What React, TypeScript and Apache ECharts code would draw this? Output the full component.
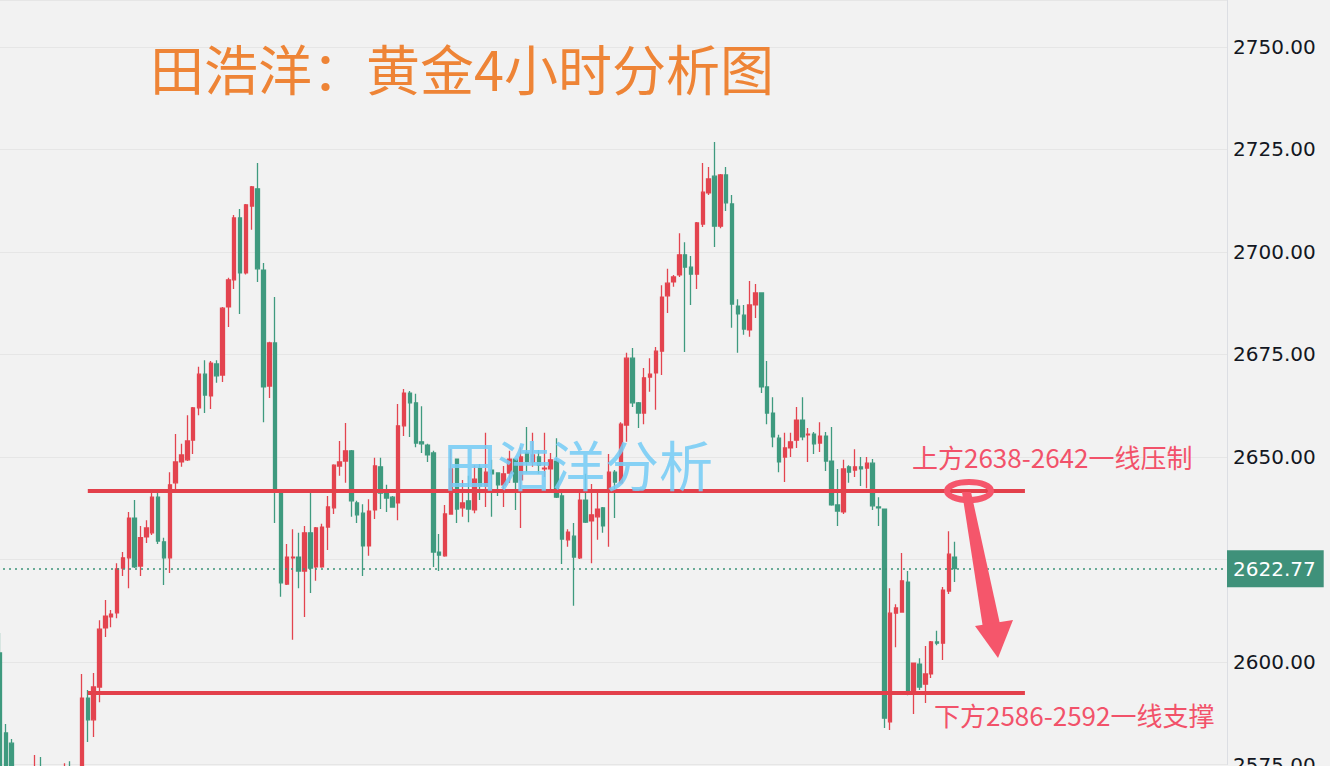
import React, { useEffect, useRef } from "react";
import * as echarts from "echarts";

// [open, close, low, high] — 4H gold candles
const candles: number[][] = [
  [2602.2, 2571.2, 2568.8, 2607.1], [2582.7, 2572.4, 2568.0, 2584.9], [2580.2, 2570.0, 2566.0, 2581.2],
  [2570.0, 2566.0, 2560.0, 2573.0], [2566.0, 2568.0, 2562.0, 2572.0], [2568.0, 2565.0, 2561.0, 2571.0],
  [2566.0, 2572.0, 2563.0, 2577.3], [2572.0, 2567.0, 2564.0, 2576.8], [2567.0, 2564.0, 2560.0, 2570.0],
  [2564.0, 2568.0, 2561.0, 2572.0], [2568.0, 2566.0, 2562.0, 2572.0], [2566.0, 2571.0, 2563.0, 2575.3],
  [2571.0, 2568.0, 2565.0, 2575.8], [2568.0, 2570.0, 2565.0, 2573.0], [2570.0, 2591.2, 2568.0, 2597.1],
  [2591.2, 2585.9, 2580.5, 2593.2], [2585.9, 2593.9, 2581.7, 2597.3], [2593.9, 2608.0, 2590.2, 2610.2],
  [2608.3, 2611.2, 2606.1, 2615.1], [2611.0, 2611.7, 2608.5, 2612.7], [2612.0, 2622.7, 2610.7, 2624.1],
  [2622.9, 2625.4, 2621.0, 2626.8], [2625.4, 2635.1, 2618.0, 2636.6], [2635.1, 2623.2, 2622.9, 2639.5],
  [2623.4, 2630.3, 2621.0, 2633.2], [2630.5, 2632.7, 2629.0, 2634.6], [2631.5, 2640.2, 2631.0, 2641.5],
  [2640.2, 2629.5, 2628.8, 2641.5], [2629.3, 2625.4, 2618.8, 2630.3], [2625.4, 2643.2, 2621.7, 2646.3],
  [2643.7, 2648.8, 2641.2, 2655.6], [2648.8, 2650.5, 2647.6, 2653.2], [2649.3, 2653.9, 2649.0, 2660.2],
  [2654.1, 2662.0, 2650.7, 2662.2], [2662.0, 2670.2, 2660.2, 2672.0], [2670.2, 2665.1, 2660.7, 2673.6],
  [2664.9, 2672.9, 2661.7, 2673.4], [2672.7, 2669.8, 2668.1, 2673.6], [2670.0, 2686.3, 2668.3, 2686.6],
  [2686.6, 2693.2, 2681.7, 2693.7], [2693.2, 2708.3, 2691.0, 2709.0], [2708.3, 2694.9, 2684.9, 2710.5],
  [2694.9, 2711.5, 2694.5, 2711.7], [2711.2, 2715.9, 2705.4, 2716.1], [2715.4, 2695.9, 2692.7, 2721.7],
  [2695.6, 2667.1, 2658.5, 2697.3], [2667.3, 2677.8, 2664.4, 2678.1], [2677.8, 2641.5, 2633.9, 2689.0],
  [2641.5, 2619.3, 2615.9, 2641.6], [2619.0, 2625.6, 2618.8, 2628.8], [2625.4, 2625.6, 2605.4, 2632.4],
  [2625.6, 2622.2, 2618.0, 2631.5], [2622.2, 2631.5, 2611.0, 2633.2], [2631.5, 2622.9, 2616.8, 2641.9],
  [2623.2, 2632.7, 2619.8, 2632.9], [2623.2, 2632.9, 2623.0, 2633.7], [2632.9, 2637.8, 2627.3, 2640.5],
  [2637.6, 2648.0, 2636.1, 2648.2], [2647.8, 2648.8, 2645.4, 2653.9], [2649.0, 2651.5, 2643.7, 2658.3],
  [2651.5, 2639.3, 2635.4, 2651.7], [2638.8, 2635.9, 2633.9, 2639.3], [2636.3, 2628.3, 2621.0, 2638.5],
  [2628.3, 2636.8, 2625.9, 2639.7], [2637.1, 2647.8, 2634.9, 2649.8], [2647.6, 2641.2, 2637.3, 2649.8],
  [2641.7, 2640.0, 2636.6, 2643.2], [2640.2, 2637.8, 2637.6, 2640.5], [2638.8, 2657.6, 2634.6, 2662.9],
  [2657.6, 2665.6, 2655.1, 2666.6], [2665.6, 2663.2, 2654.9, 2666.1], [2663.2, 2653.4, 2652.4, 2665.4],
  [2653.7, 2653.2, 2651.0, 2662.4], [2652.9, 2650.5, 2648.8, 2653.2], [2651.0, 2626.8, 2623.2, 2651.5],
  [2626.8, 2626.1, 2622.2, 2631.2], [2625.9, 2636.1, 2625.7, 2638.3], [2636.1, 2647.1, 2635.9, 2651.9],
  [2649.5, 2637.3, 2633.9, 2649.6], [2637.6, 2638.8, 2635.4, 2644.4], [2639.3, 2637.3, 2634.1, 2645.4],
  [2637.1, 2644.6, 2636.3, 2648.0], [2647.3, 2642.9, 2639.5, 2648.3], [2642.9, 2646.3, 2637.8, 2655.9],
  [2646.8, 2645.9, 2635.4, 2649.3], [2646.1, 2643.2, 2640.5, 2646.3], [2643.2, 2645.9, 2637.8, 2647.8],
  [2646.1, 2649.5, 2643.7, 2651.5], [2649.5, 2643.9, 2637.1, 2649.6], [2644.4, 2650.0, 2632.7, 2652.4],
  [2651.0, 2648.8, 2646.3, 2657.3], [2648.8, 2650.5, 2647.6, 2655.9], [2650.0, 2648.0, 2645.9, 2651.7],
  [2647.1, 2647.3, 2645.1, 2655.9], [2647.1, 2649.3, 2642.0, 2651.0], [2649.0, 2640.2, 2640.0, 2654.6],
  [2640.5, 2630.0, 2623.9, 2641.7], [2629.8, 2631.7, 2628.1, 2632.4], [2630.7, 2625.6, 2613.7, 2633.9],
  [2625.4, 2639.5, 2625.1, 2641.9], [2639.5, 2634.1, 2633.9, 2645.9], [2634.4, 2635.9, 2624.1, 2643.4],
  [2635.4, 2637.3, 2629.8, 2641.7], [2637.6, 2633.2, 2631.5, 2637.8], [2641.7, 2646.3, 2628.1, 2650.7],
  [2646.3, 2643.9, 2635.1, 2646.8], [2643.7, 2658.0, 2643.5, 2658.5], [2657.8, 2674.1, 2653.7, 2675.4],
  [2674.1, 2663.2, 2662.2, 2676.6], [2663.2, 2660.7, 2657.1, 2663.4], [2660.7, 2669.3, 2658.0, 2671.7],
  [2669.5, 2670.2, 2665.9, 2674.1], [2670.5, 2675.8, 2661.5, 2676.8], [2675.8, 2689.0, 2670.0, 2691.9],
  [2689.3, 2692.4, 2685.1, 2695.9], [2692.7, 2693.9, 2691.5, 2694.4], [2694.4, 2699.3, 2693.9, 2704.6],
  [2699.3, 2696.3, 2675.6, 2702.4], [2696.3, 2694.6, 2687.1, 2699.0], [2694.6, 2707.1, 2691.0, 2707.3],
  [2706.8, 2714.6, 2706.1, 2721.7], [2714.4, 2717.8, 2713.9, 2720.7], [2718.5, 2706.3, 2701.2, 2726.8],
  [2706.3, 2718.8, 2705.8, 2719.0], [2718.8, 2712.0, 2710.0, 2720.7], [2711.7, 2687.3, 2681.5, 2713.9],
  [2686.8, 2684.9, 2675.4, 2688.5], [2684.6, 2681.2, 2679.8, 2687.1], [2681.0, 2687.1, 2679.3, 2692.9],
  [2687.1, 2690.0, 2683.9, 2692.2], [2690.0, 2667.1, 2665.6, 2690.2], [2667.1, 2660.7, 2658.0, 2673.4],
  [2660.7, 2654.9, 2652.4, 2664.6], [2654.6, 2648.8, 2646.3, 2655.4], [2650.0, 2652.2, 2643.9, 2655.9],
  [2652.2, 2653.7, 2650.0, 2655.9], [2654.1, 2659.0, 2652.2, 2662.2], [2659.0, 2654.9, 2654.1, 2664.6],
  [2655.4, 2655.6, 2648.8, 2657.1], [2655.6, 2653.2, 2650.7, 2656.1], [2653.4, 2655.1, 2651.2, 2658.5],
  [2655.1, 2649.0, 2646.6, 2656.1], [2649.0, 2638.3, 2638.1, 2657.3], [2638.3, 2636.8, 2633.2, 2647.1],
  [2636.6, 2647.1, 2636.1, 2649.3], [2647.6, 2646.3, 2643.7, 2648.0], [2646.8, 2647.6, 2645.1, 2651.9],
  [2647.6, 2647.1, 2642.9, 2650.0], [2647.3, 2648.5, 2642.4, 2650.0], [2648.5, 2638.1, 2637.1, 2649.5],
  [2637.8, 2637.6, 2633.2, 2640.2], [2637.3, 2586.3, 2583.9, 2637.4], [2585.4, 2611.9, 2583.4, 2618.0],
  [2611.9, 2613.2, 2603.6, 2614.1], [2612.2, 2619.8, 2612.0, 2626.6], [2619.5, 2592.4, 2591.9, 2622.2],
  [2592.4, 2599.7, 2587.3, 2599.9], [2599.5, 2593.9, 2593.2, 2600.9], [2594.6, 2597.1, 2590.0, 2603.9],
  [2597.1, 2604.9, 2596.1, 2605.1], [2604.9, 2604.6, 2604.1, 2607.6], [2604.6, 2617.5, 2600.5, 2618.3],
  [2617.3, 2626.3, 2616.6, 2631.9], [2625.6, 2622.77, 2619.5, 2629.3],
];

const SLOT_COUNT = 210; // candle slots incl. the empty right margin
const categories: string[] = Array.from({ length: SLOT_COUNT }, (_, i) => String(i));

const upperLevel = 2641.8;
const lowerLevel = 2592.6;
const lastPrice = 2622.77;
const levelStartSlot = 15;
const levelEndSlot = 175;
const yMin = 2575;
const yMax = 2761.46;
const yStep = 25;

const titleText = "田浩洋：黄金4小时分析图";
const watermarkText = "田浩洋分析";
const resistanceText = "上方2638-2642一线压制";
const supportText = "下方2586-2592一线支撑";

const UP = "#e3444f";
const DOWN = "#3f9a7f";
const PINK = "#f2526a";

export default function App() {
  const ref = useRef<HTMLDivElement>(null);

  useEffect(() => {
    if (!ref.current) return;
    const chart = echarts.init(ref.current, undefined, { renderer: "svg", width: 1330, height: 766 });
    const option: any = {
      animation: false,
      backgroundColor: "#f2f2f2",
      grid: {
        left: -3,
        top: 0,
        width: 1230,
        height: 764.5,
        containLabel: false,
        outerBoundsMode: "none",
      },
      xAxis: {
        type: "category",
        data: categories,
        boundaryGap: true,
        axisLine: { show: false },
        axisTick: { show: false },
        axisLabel: { show: false },
        splitLine: {
          show: true,
          interval: (idx: number) => idx === 88,
          lineStyle: { color: "#e4e4e4", width: 1 },
        },
      },
      yAxis: {
        type: "value",
        position: "right",
        min: yMin,
        max: yMax,
        interval: yStep,
        axisLine: { show: true, lineStyle: { color: "#dcdee3", width: 1 } },
        axisTick: { show: false },
        splitLine: { show: true, lineStyle: { color: "#e6e6e6", width: 1 } },
        axisLabel: {
          formatter: (v: number) => (Math.abs(v % yStep) < 1e-6 ? v.toFixed(2) : ""),
          color: "#131722",
          fontSize: 20,
          fontFamily: "DejaVu Sans",
          margin: 6,
        },
      },
      series: [
        {
          type: "candlestick",
          data: candles,
          barWidth: 4,
          itemStyle: {
            color: UP,
            color0: DOWN,
            borderColor: UP,
            borderColor0: DOWN,
            borderWidth: 1.3,
          },
          markLine: {
            silent: true,
            symbol: ["none", "none"],
            animation: false,
            label: { show: false },
            data: [
              {
                yAxis: lastPrice,
                lineStyle: { color: "#3d9479", width: 1.5, type: [2, 4] },
                label: {
                  show: true,
                  position: "end",
                  distance: 0,
                  formatter: lastPrice.toFixed(2),
                  backgroundColor: "#3f917a",
                  color: "#ffffff",
                  fontSize: 20,
                  fontFamily: "DejaVu Sans",
                  padding: [9, 8, 8, 6],
                },
              },
              [
                { coord: [levelStartSlot, upperLevel], lineStyle: { color: "#e3404b", width: 4, type: "solid" } },
                { coord: [levelEndSlot, upperLevel] },
              ],
              [
                { coord: [levelStartSlot, lowerLevel], lineStyle: { color: "#e3404b", width: 4, type: "solid" } },
                { coord: [levelEndSlot, lowerLevel] },
              ],
            ],
          },
        },
      ],
      graphic: [
        {
          type: "text",
          left: 150,
          top: 40,
          z: 20,
          style: {
            text: titleText,
            fill: "#ee8436",
            fontSize: 54,
            fontFamily: "Noto Sans CJK SC",
            fontWeight: "normal",
          },
        },
        {
          type: "text",
          left: 443,
          top: 436,
          z: 20,
          style: {
            text: watermarkText,
            fill: "rgba(118, 204, 245, 0.88)",
            fontSize: 54,
            fontFamily: "Noto Sans CJK SC",
          },
        },
        {
          type: "text",
          left: 912,
          top: 443,
          z: 20,
          style: { text: resistanceText, fill: PINK, fontSize: 26, fontFamily: "Noto Sans CJK SC" },
        },
        {
          type: "text",
          left: 934,
          top: 701,
          z: 20,
          style: { text: supportText, fill: PINK, fontSize: 26, fontFamily: "Noto Sans CJK SC" },
        },
        {
          type: "ellipse",
          z: 21,
          shape: { cx: 969, cy: 491, rx: 22, ry: 9 },
          style: { fill: "none", stroke: "#f5566b", lineWidth: 6 },
        },
        {
          type: "polygon",
          z: 21,
          shape: { points: [[962, 492], [971, 492], [1000, 624], [983, 628]] },
          style: { fill: "#f5566b" },
        },
        {
          type: "polygon",
          z: 21,
          shape: { points: [[975, 626], [1013, 620], [998, 658]] },
          style: { fill: "#f5566b" },
        },
      ],
    };
    chart.setOption(option);
    return () => chart.dispose();
  }, []);

  return (
    <div
      ref={ref}
      style={{ position: "fixed", left: 0, top: 0, width: 1330, height: 766 }}
    />
  );
}
